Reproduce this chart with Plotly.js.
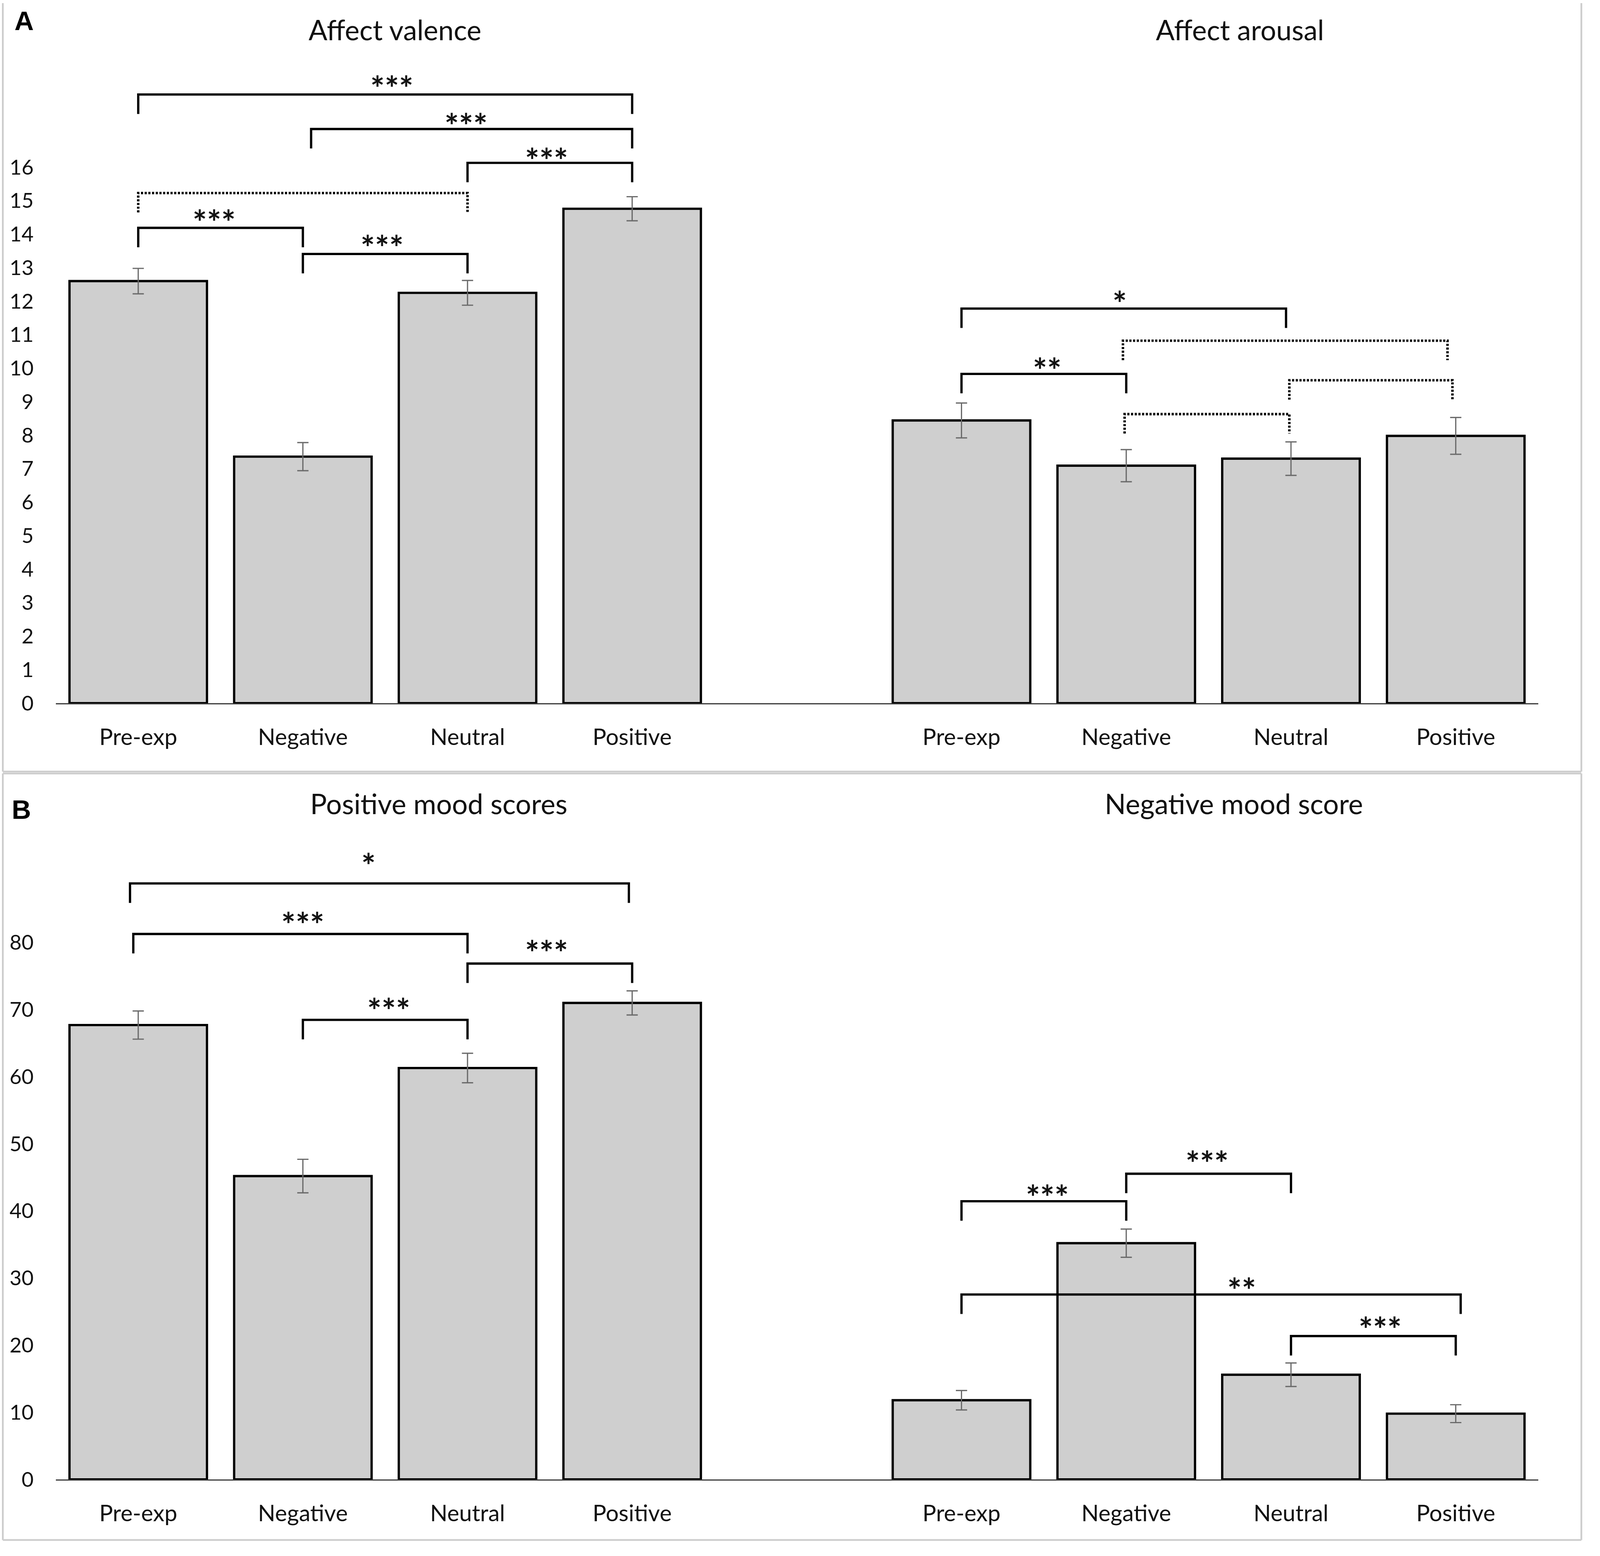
<!DOCTYPE html>
<html>
<head>
<meta charset="utf-8">
<script src="https://cdn.plot.ly/plotly-3.0.1.min.js"></script>
<style>
  html, body { margin: 0; padding: 0; background: #fff; overflow: hidden; }
</style>
</head>
<body>
<div id="chart"></div>
<script>
// categories shared by all four panels
const categories = ["Pre-exp", "Negative", "Neutral", "Positive"];

// A: affect valence / arousal (means and error bars)
const valenceMean = [12.60, 7.36, 12.25, 14.76];
const valenceErr = [0.38, 0.42, 0.37, 0.36];
const arousalMean = [8.44, 7.09, 7.30, 7.98];
const arousalErr = [0.52, 0.48, 0.50, 0.55];

// B: mood scores
const posMoodMean = [67.7, 45.2, 61.3, 71.0];
const posMoodErr = [2.1, 2.5, 2.2, 1.8];
const negMoodMean = [11.8, 35.2, 15.6, 9.8];
const negMoodErr = [1.45, 2.1, 1.75, 1.33];

const valenceTicks = [0, 1, 2, 3, 4, 5, 6, 7, 8, 9, 10, 11, 12, 13, 14, 15, 16];
const moodTicks = [0, 10, 20, 30, 40, 50, 60, 70, 80];

// significance brackets: [from, to, level, label, labelX, labelY, dotted]
const valenceBrackets = [
  [0, 3, 18.17, "***", 1.54, 18.54, false],
  [1.05, 3, 17.14, "***", 1.99, 17.42, false],
  [2, 3, 16.13, "***", 2.48, 16.39, false],
  [0, 2, 15.23, "", 0, 0, true],
  [0, 1, 14.19, "***", 0.46, 14.54, false],
  [1, 2, 13.41, "***", 1.48, 13.78, false]
];
const arousalBrackets = [
  [0, 1.97, 11.78, "*", 0.96, 12.12, false],
  [0.98, 2.95, 10.82, "", 0, 0, true],
  [0, 1, 9.83, "**", 0.52, 10.12, false],
  [1.99, 2.98, 9.64, "", 0, 0, true],
  [0.99, 1.99, 8.63, "", 0, 0, true]
];
const posMoodBrackets = [
  [-0.05, 2.98, 88.8, "*", 1.40, 92.4, false],
  [-0.03, 2.0, 81.27, "***", 1.0, 83.6, false],
  [2, 3, 76.86, "***", 2.48, 79.4, false],
  [1, 2, 68.47, "***", 1.52, 70.8, false]
];
const negMoodBrackets = [
  [0, 1, 41.45, "***", 0.52, 42.95, false],
  [1, 2, 45.55, "***", 1.49, 48.0, false],
  [0, 3.03, 27.55, "**", 1.70, 29.1, false],
  [2, 3, 21.36, "***", 2.54, 23.3, false]
];

// the layout is worked out on a 4550 x 3983 sheet and stretched to the window
const REF_W = 4550, REF_H = 3983;
const W = window.innerWidth || REF_W;
const H = window.innerHeight || REF_H;
const sx = W / REF_W, sy = H / REF_H;
const s = Math.min(sx, sy);
document.getElementById("chart").style.width = W + "px";
document.getElementById("chart").style.height = H + "px";

const px = v => v / REF_W;
const py = v => 1 - v / REF_H;
const FONT = "Lato, 'Open Sans', sans-serif";
const xIdx = categories.map((c, i) => i);

function barTrace(means, errs, xa, ya) {
  return {
    type: "bar",
    x: xIdx,
    y: means,
    xaxis: xa,
    yaxis: ya,
    marker: { color: "#cfcfcf", line: { color: "#000", width: 6.5 * s } },
    error_y: { type: "data", array: errs, visible: true, color: "#6a6a6a", thickness: 3.5 * s, width: 16 * sx },
    hoverinfo: "skip"
  };
}

const data = [
  barTrace(valenceMean, valenceErr, "x", "y"),
  barTrace(arousalMean, arousalErr, "x2", "y2"),
  barTrace(posMoodMean, posMoodErr, "x3", "y3"),
  barTrace(negMoodMean, negMoodErr, "x4", "y4")
];

const shapes = [];
const annotations = [];

function addBrackets(list, xr, yr, leg) {
  list.forEach(b => {
    const [x0, x1, lvl, label, lx, ly, dotted] = b;
    shapes.push({
      type: "path",
      xref: xr, yref: yr,
      path: `M ${x0},${lvl - leg} L ${x0},${lvl} L ${x1},${lvl} L ${x1},${lvl - leg}`,
      line: { color: "#000", width: (dotted ? 7 : 6.5) * s, dash: dotted ? `${6 * s}px,${4.5 * s}px` : "solid" }
    });
    if (label) {
      // star glyphs sit ~34px above the text box bottom, so shift the box down
      annotations.push({
        xref: xr, yref: yr, x: lx, y: ly,
        text: label, showarrow: false, yanchor: "bottom", yshift: -68 * sy,
        font: { family: FONT, size: 96 * s, color: "#111", weight: "bold" }
      });
    }
  });
}
addBrackets(valenceBrackets, "x", "y", 0.58);
addBrackets(arousalBrackets, "x2", "y2", 0.58);
addBrackets(posMoodBrackets, "x3", "y3", 2.9);
addBrackets(negMoodBrackets, "x4", "y4", 2.9);

// panel frames
const frame = { color: "#cdcdcd", width: 5 * s };
[
  [8, 8, 8, 1975], [4497, 8, 4497, 1975], [8, 1975, 4497, 1975],
  [8, 1980, 8, 3942], [4497, 1980, 4497, 3942], [8, 1980, 4497, 1980], [8, 3942, 4497, 3942]
].forEach(l => shapes.push({
  type: "line", xref: "paper", yref: "paper",
  x0: px(l[0]), y0: py(l[1]), x1: px(l[2]), y1: py(l[3]), line: frame
}));

// titles and panel letters
const titleFont = { family: FONT, size: 79 * s, color: "#111" };
[
  ["Affect valence", 1123, 76],
  ["Affect arousal", 3526, 76],
  ["Positive mood scores", 1248, 2056],
  ["Negative mood score", 3509, 2056]
].forEach(t => annotations.push({
  xref: "paper", yref: "paper", x: px(t[1]), y: py(t[2]),
  text: t[0], showarrow: false, xanchor: "center", yanchor: "middle", font: titleFont
}));
[["A", 68, 53], ["B", 60, 2072]].forEach(t => annotations.push({
  xref: "paper", yref: "paper", x: px(t[1]), y: py(t[2]),
  text: "<b>" + t[0] + "</b>", showarrow: false, xanchor: "center", yanchor: "middle",
  font: { family: "Liberation Sans, Arial, sans-serif", size: 76 * s, color: "#000" }
}));

const xTickFont = { family: FONT, size: 65 * s, color: "#111" };
const yTickFont = { family: FONT, size: 59 * s, color: "#111" };

function xAxis(domain, range, anchor) {
  return {
    domain: domain, range: range, anchor: anchor, type: "linear",
    tickvals: xIdx, ticktext: categories, tickfont: xTickFont,
    ticks: "", showgrid: false, zeroline: false,
    showline: true, linecolor: "#3a3a3a", linewidth: 3.5 * s,
    ticklabelstandoff: Math.round(34 * sy), fixedrange: true
  };
}
function yAxis(domain, range, anchor, ticks) {
  const ax = {
    domain: domain, range: range, anchor: anchor,
    showgrid: false, zeroline: false, showline: false, ticks: "", fixedrange: true
  };
  if (ticks) {
    ax.tickvals = ticks;
    ax.tickfont = yTickFont;
    ax.ticklabelstandoff = Math.round(62 * sx);
  } else {
    ax.showticklabels = false;
  }
  return ax;
}

// pixel geometry of the panels (reference sheet pixels)
const aBase = 1800, aScale = 85.75, aMax = 19;
const bBase = 3787, bScale = 17.18, bMax = 95;
const aDom = [py(aBase), py(aBase - aMax * aScale)];
const bDom = [py(bBase), py(bBase - bMax * bScale)];
const leftDom = [px(159), px(2500)];
const rightDom = [px(2500), px(4374)];

const layout = {
  width: W, height: H,
  margin: { l: 0, r: 0, t: 0, b: 0 },
  paper_bgcolor: "#fff", plot_bgcolor: "rgba(0,0,0,0)",
  showlegend: false,
  bargap: 0.165,
  xaxis: xAxis(leftDom, [-0.5, 4.5], "y"),
  yaxis: yAxis(aDom, [0, aMax], "x", valenceTicks),
  xaxis2: xAxis(rightDom, [-0.5, 3.5], "y2"),
  yaxis2: yAxis(aDom, [0, aMax], "x2", null),
  xaxis3: xAxis(leftDom, [-0.5, 4.5], "y3"),
  yaxis3: yAxis(bDom, [0, bMax], "x3", moodTicks),
  xaxis4: xAxis(rightDom, [-0.5, 3.5], "y4"),
  yaxis4: yAxis(bDom, [0, bMax], "x4", null),
  shapes: shapes,
  annotations: annotations
};

Plotly.newPlot("chart", data, layout, { staticPlot: true, displayModeBar: false });
</script>
</body>
</html>
